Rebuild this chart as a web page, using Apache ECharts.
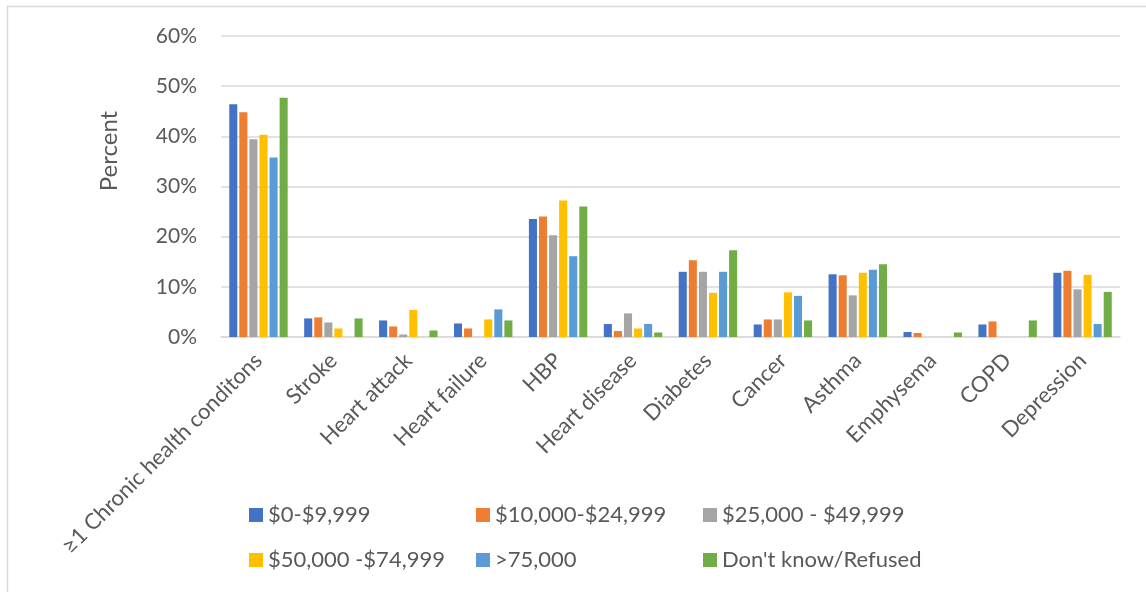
<!DOCTYPE html>
<html>
<head>
<meta charset="utf-8">
<script src="https://cdn.jsdelivr.net/npm/echarts@6/dist/echarts.min.js"></script>
<style>
  html, body { margin: 0; padding: 0; background: #fff; }
  #chart { width: 1146px; height: 592px; }
</style>
</head>
<body>
<div id="chart"></div>
<script>
// categories on the x axis
const categories = ["≥1 Chronic health conditons", "Stroke", "Heart attack", "Heart failure", "HBP",
  "Heart disease", "Diabetes", "Cancer", "Asthma", "Emphysema", "COPD", "Depression"];

// percent values per income group (null = no bar)
const income0to9999 = [46.4, 3.7, 3.3, 2.7, 23.5, 2.6, 13.0, 2.5, 12.5, 1.0, 2.5, 12.8];
const income10000to24999 = [44.8, 3.9, 2.1, 1.7, 24.0, 1.2, 15.3, 3.5, 12.3, 0.8, 3.1, 13.2];
const income25000to49999 = [39.4, 2.9, 0.5, null, 20.3, 4.7, 13.0, 3.5, 8.3, null, null, 9.5];
const income50000to74999 = [40.3, 1.7, 5.4, 3.5, 27.2, 1.7, 8.8, 8.9, 12.8, null, null, 12.4];
const incomeOver75000 = [35.8, null, null, 5.5, 16.1, 2.6, 13.0, 8.2, 13.4, null, null, 2.6];
const dontKnowRefused = [47.7, 3.7, 1.3, 3.3, 26.0, 0.9, 17.3, 3.3, 14.5, 0.9, 3.3, 9.0];

const seriesNames = ["$0-$9,999", "$10,000-$24,999", "$25,000 - $49,999",
  "$50,000 -$74,999", ">75,000", "Don't know/Refused"];
const seriesData = [income0to9999, income10000to24999, income25000to49999,
  income50000to74999, incomeOver75000, dontKnowRefused];
const colors = ["#4472C4", "#ED7D31", "#A5A5A5", "#FFC000", "#5B9BD5", "#70AD47"];

const yTicks = [0, 10, 20, 30, 40, 50, 60];

const font = "Lato, 'Open Sans', sans-serif";
const textColor = "#595959";

// one legend per item so they sit in the same grid as the original
const legendSpots = [[249, 504], [476, 504], [703, 504], [249, 549], [476, 549], [703, 549]];
const legends = seriesNames.map((name, i) => ({
  data: [name],
  left: legendSpots[i][0],
  top: legendSpots[i][1],
  padding: 0,
  itemWidth: 14,
  itemHeight: 14,
  icon: "rect",
  selectedMode: false,
  textStyle: { color: textColor, fontSize: 22, fontFamily: font },
}));

const chart = echarts.init(document.getElementById("chart"));
chart.setOption({
  backgroundColor: "#fff",
  animation: false,
  color: colors,
  legend: legends,
  grid: { left: 221, right: 26, top: 36, bottom: 255 },
  graphic: [
    {
      type: "rect",
      silent: true,
      shape: { x: 7.5, y: 6.5, width: 1300, height: 700 },
      style: { fill: "none", stroke: "#d9d9d9", lineWidth: 1.5 },
    },
    {
      type: "text",
      silent: true,
      x: 109,
      y: 151,
      rotation: Math.PI / 2,
      style: {
        text: "Percent",
        fill: textColor,
        font: "24px " + font,
        align: "center",
        verticalAlign: "middle",
      },
    },
  ],
  xAxis: {
    type: "category",
    data: categories,
    axisTick: { show: false },
    axisLine: { lineStyle: { color: "#d9d9d9", width: 1.5 } },
    axisLabel: {
      interval: 0,
      rotate: 45,
      margin: 20,
      color: textColor,
      fontSize: 22,
      fontFamily: font,
    },
  },
  yAxis: {
    type: "value",
    min: 0,
    max: 60,
    interval: 10,
    axisLine: { show: false },
    axisTick: { show: false },
    axisLabel: {
      margin: 24,
      color: textColor,
      fontSize: 21,
      fontFamily: font,
      formatter: (v) => (yTicks.includes(v) ? v + "%" : ""),
    },
    splitLine: { lineStyle: { color: "#d9d9d9", width: 1.5 } },
  },
  series: seriesData.map((data, i) => ({
    name: seriesNames[i],
    type: "bar",
    data: data.map((v) => (v === null ? "-" : v)),
    barGap: "25%",
    barCategoryGap: "22%",
    itemStyle: { color: colors[i] },
  })),
});
</script>
</body>
</html>
